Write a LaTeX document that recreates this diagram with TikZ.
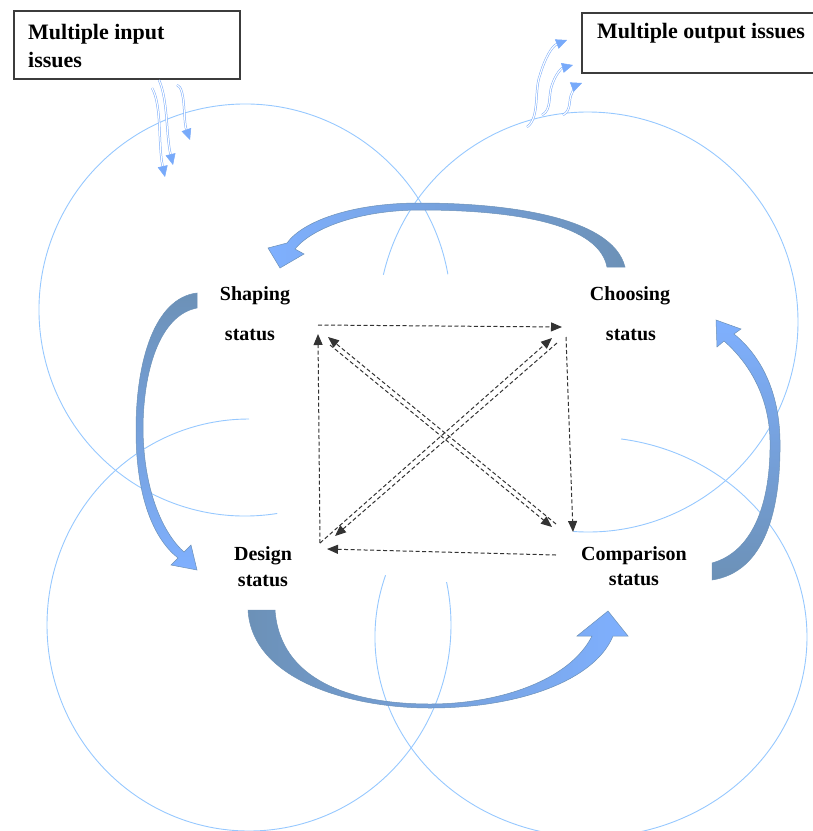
\documentclass[tikz,border=0pt]{standalone}
\usepackage{fontspec}
\setmainfont{Liberation Serif}
\usetikzlibrary{arrows.meta}
\definecolor{ringblue}{RGB}{150,200,255}
\definecolor{wavyblue}{RGB}{120,170,250}
\definecolor{arrowdark}{RGB}{108,145,183}
\definecolor{arrowlight}{RGB}{127,176,255}
\definecolor{boxgray}{RGB}{60,60,60}

\begin{document}
\begin{tikzpicture}[x=1pt, y=1pt,
		ring/.style={ringblue, line width=0.9pt},
		wavy/.style={wavyblue, line width=0.5pt, double=white, double distance=1.2pt, -{Triangle[length=11pt, width=10pt]}},
		link/.style={black!80, line width=1pt, dash pattern=on 4pt off 2.5pt, -{Triangle[length=11pt, width=9pt]}},
		bigarrow/.style={draw=arrowdark, line width=0.5pt},
		boxline/.style={draw=boxgray, line width=1.2pt},
		lbl/.style={font=\fontsize{20}{24}\selectfont\bfseries, anchor=base, inner sep=0pt},
		boxtxt/.style={font=\fontsize{22}{28}\selectfont\bfseries, anchor=base west, inner sep=0pt}]
	\useasboundingbox (0,0) rectangle (813,-831);
	\clip (0,0) rectangle (813,-831);
	% four rings
	\draw[ring] (245,-310) ++(10:206) arc[start angle=10, end angle=279, radius=206];
	\draw[ring] (588,-322) ++(-94:210) arc[start angle=-94, end angle=167, radius=210];
	\draw[ring] (249,-625) ++(90:202 and 206) arc[start angle=90, end angle=372, x radius=202, y radius=206];
	\draw[ring] (591,-637) ++(162:216 and 200) arc[start angle=162, end angle=442, x radius=216, y radius=200];
	% boxes
	\draw[boxline] (14,-11) rectangle (240,-79);
	\node[boxtxt] (input) at (28,-39) {Multiple input};
	\node[boxtxt] (input-2) at (28,-67) {issues};
	\draw[boxline] (582,-13) rectangle (820,-73);
	\node[boxtxt] (output) at (597,-38) {Multiple output issues};
	% wavy arrows in and out
	\draw[wavy] (152,-88) .. controls (162,-105) and (158,-145) .. (165,-177);
	\draw[wavy] (159,-80) .. controls (168,-100) and (166,-135) .. (173,-165);
	\draw[wavy] (177,-85) .. controls (186,-88) and (183,-120) .. (190,-140);
	\draw[wavy] (527,-127) .. controls (540,-118) and (534,-90) .. (540,-75) .. controls (545,-58) and (552,-46) .. (567,-40);
	\draw[wavy] (542,-115) .. controls (552,-110) and (548,-95) .. (552,-85) .. controls (556,-73) and (562,-68) .. (573,-65);
	\draw[wavy] (563,-115) .. controls (572,-110) and (568,-100) .. (572,-93) .. controls (574,-88) and (577,-85) .. (582,-83);
	% labels
	\node[lbl] (shaping) at (255,-300) {Shaping};
	\node[lbl] (shaping-2) at (250,-340) {status};
	\node[lbl] (choosing) at (630,-300) {Choosing};
	\node[lbl] (choosing-2) at (631,-340) {status};
	\node[lbl] (design) at (263,-560) {Design};
	\node[lbl] (design-2) at (263,-586) {status};
	\node[lbl] (comparison) at (634,-560) {Comparison};
	\node[lbl] (comparison-2) at (634,-585) {status};
	% dashed links between the four states
	\coordinate (sh) at (320,-332);
	\coordinate (ch) at (564,-332);
	\coordinate (de) at (322,-546);
	\coordinate (co) at (566,-540);
	\draw[link] ([shift={(-2,7)}]sh) -- ([shift={(-2,5)}]ch);
	\draw[link] ([shift={(2,-5)}]ch) -- ([shift={(7,8)}]co);
	\draw[link] ([shift={(-10,-15)}]co) -- ([shift={(5,-3)}]de);
	\draw[link] ([shift={(-2,3)}]de) -- ([shift={(-2,-2)}]sh);
	\draw[link] ([shift={(-10,16)}]co) -- ([shift={(8,-5)}]sh);
	\draw[link] ([shift={(10,-13)}]sh) -- ([shift={(-14,13)}]co);
	\draw[link] ([shift={(-2,3)}]de) -- ([shift={(-12,-6)}]ch);
	\draw[link] ([shift={(-7,-11)}]ch) -- ([shift={(13,10)}]de);
	% big curved arrows
	\path[bigarrow, left color=arrowlight, right color=arrowdark] (625,-267) .. controls (612,-215) and (500,-203) .. (420,-203) .. controls (350,-203) and (302,-222) .. (287,-243) -- (268,-248) -- (280,-268) -- (304,-254) -- (295,-249) .. controls (312,-228) and (360,-210) .. (420,-210) .. controls (500,-210) and (598,-220) .. (607,-267) -- cycle;
	\path[bigarrow, top color=arrowdark, bottom color=arrowlight] (197,-293) .. controls (155,-298) and (136,-360) .. (136,-430) .. controls (136,-500) and (155,-540) .. (178,-558) -- (171,-565) -- (197,-570) -- (191,-545) -- (184,-552) .. controls (165,-535) and (144,-495) .. (143,-430) .. controls (143,-370) and (160,-315) .. (197,-308) -- cycle;
	\path[bigarrow, left color=arrowdark, right color=arrowlight] (248,-610) .. controls (252,-680) and (350,-708) .. (430,-708) .. controls (520,-708) and (595,-680) .. (613,-636) -- (628,-636) -- (608,-611) -- (577,-636) -- (592,-636) .. controls (570,-680) and (500,-704) .. (430,-704) .. controls (350,-704) and (280,-680) .. (275,-610) -- cycle;
	\path[bigarrow, top color=arrowlight, bottom color=arrowdark] (712,-580) .. controls (765,-572) and (781,-510) .. (780,-440) .. controls (779,-390) and (760,-355) .. (734,-334) -- (741,-329) -- (716,-320) -- (717,-347) -- (724,-341) .. controls (748,-362) and (769,-395) .. (770,-440) .. controls (771,-505) and (752,-552) .. (712,-563) -- cycle;
\end{tikzpicture}
\end{document}
